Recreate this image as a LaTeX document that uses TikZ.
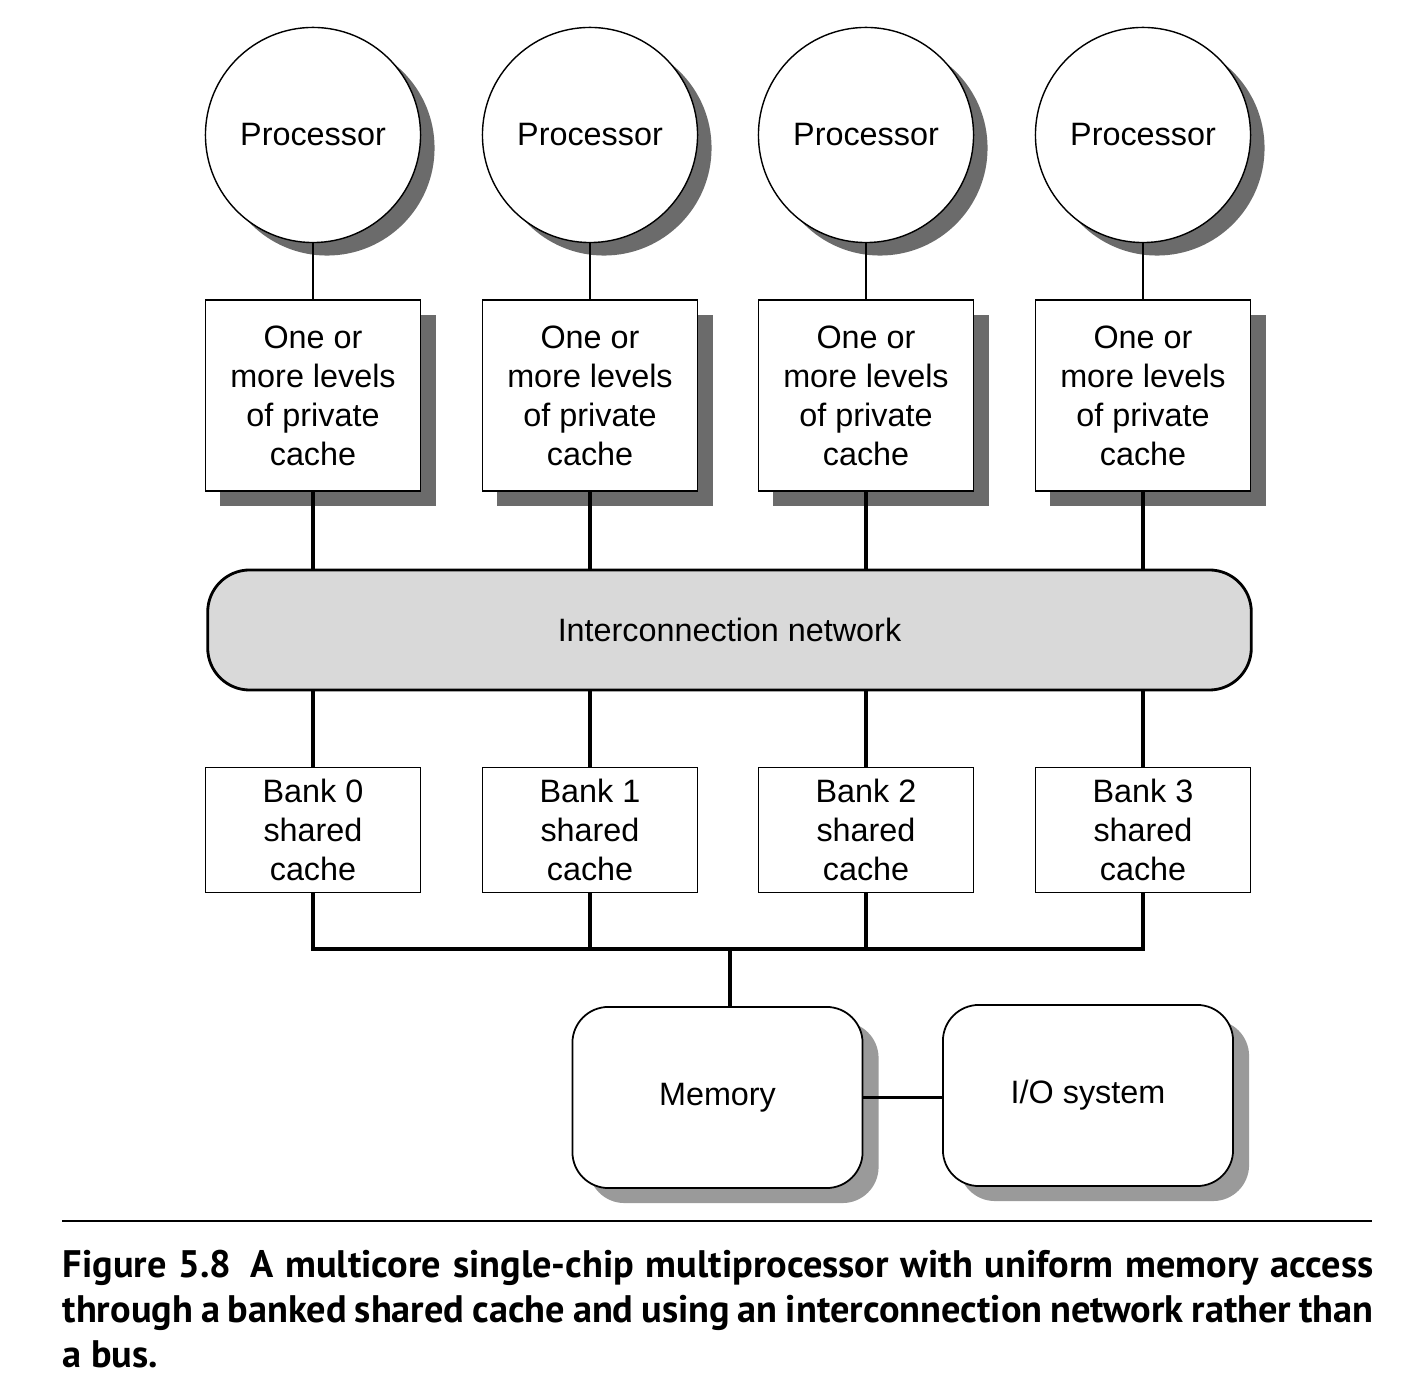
\documentclass[tikz,border=0pt]{standalone}
\usepackage{fontspec}
\setmainfont{Liberation Sans}
\newfontfamily\capfont{PT Sans}
\usepackage{tikz}
\usetikzlibrary{shadows}
\definecolor{shadowdark}{HTML}{6B6B6B}
\definecolor{shadowlight}{HTML}{9A9A9A}
\definecolor{netgray}{HTML}{D9D9D9}
\tikzset{
  proc/.style={draw, line width=0.4pt, circle, fill=white, minimum size=2.15cm, inner sep=0pt,
    font=\fontsize{9.2}{11.1}\selectfont,
    general shadow={fill=shadowdark, shadow xshift=0.14cm, shadow yshift=-0.13cm}},
  privcache/.style={draw, line width=0.45pt, fill=white, minimum width=2.15cm, minimum height=1.91cm,
    align=center, font=\fontsize{9.2}{11.1}\selectfont,
    general shadow={fill=shadowdark, shadow xshift=0.15cm, shadow yshift=-0.15cm}},
  bank/.style={draw, line width=0.45pt, fill=white, minimum width=2.15cm, minimum height=1.24cm,
    align=center, font=\fontsize{9.2}{11.1}\selectfont},
  netbox/.style={draw, line width=0.8pt, fill=netgray, rounded corners=0.42cm,
    minimum width=10.43cm, minimum height=1.2cm, font=\fontsize{9.2}{11.1}\selectfont},
  sysbox/.style={draw, line width=0.5pt, fill=white, rounded corners=0.36cm,
    minimum width=2.9cm, minimum height=1.81cm, font=\fontsize{9.2}{11.1}\selectfont,
    general shadow={fill=shadowlight, shadow xshift=0.16cm, shadow yshift=-0.15cm}},
  link/.style={line width=0.4pt},
  wire/.style={line width=1pt},
}

\begin{document}
\begin{tikzpicture}[x=0.01cm, y=-0.01cm]
\useasboundingbox (0,0) rectangle (1402,1398);

% processors
\node[proc] (p0) at (313,135) {Processor};
\node[proc] (p1) at (590,135) {Processor};
\node[proc] (p2) at (866,135) {Processor};
\node[proc] (p3) at (1143,135) {Processor};

% private caches
\node[privcache] (c0) at (313,395.5) {One or\\more levels\\of private\\cache};
\node[privcache] (c1) at (590,395.5) {One or\\more levels\\of private\\cache};
\node[privcache] (c2) at (866,395.5) {One or\\more levels\\of private\\cache};
\node[privcache] (c3) at (1143,395.5) {One or\\more levels\\of private\\cache};

\node[netbox] (net) at (729.5,630) {Interconnection network};

% shared cache banks
\node[bank] (b0) at (313,830) {Bank 0\\shared\\cache};
\node[bank] (b1) at (590,830) {Bank 1\\shared\\cache};
\node[bank] (b2) at (866,830) {Bank 2\\shared\\cache};
\node[bank] (b3) at (1143,830) {Bank 3\\shared\\cache};

\node[sysbox] (mem) at (717.5,1097.5) {\raisebox{-3pt}{Memory}};
\node[sysbox] (io) at (1088,1095.5) {I/O system};

\draw[link] (p0) -- (c0);
\draw[link] (p1) -- (c1);
\draw[link] (p2) -- (c2);
\draw[link] (p3) -- (c3);

\draw[wire] (c0) -- (c0 |- net.north);
\draw[wire] (c1) -- (c1 |- net.north);
\draw[wire] (c2) -- (c2 |- net.north);
\draw[wire] (c3) -- (c3 |- net.north);

\draw[wire] (b0) -- (b0 |- net.south);
\draw[wire] (b1) -- (b1 |- net.south);
\draw[wire] (b2) -- (b2 |- net.south);
\draw[wire] (b3) -- (b3 |- net.south);

% bus to memory
\coordinate (bus) at (730,949);
\draw[wire] (b0.south) |- (bus) -| (b3.south);
\draw[wire] (b1.south) -- (b1.south |- bus);
\draw[wire] (b2.south) -- (b2.south |- bus);
\draw[wire] (bus) -- (bus |- mem.north);
\draw[line width=0.7pt] (mem.east) -- (io.west |- mem.east);

% caption
\draw[line width=0.6pt] (62,1221) -- (1372,1221);
\node[anchor=north west, inner sep=0pt, text width=13.1cm, align=justify,
  font=\capfont\bfseries\fontsize{10.9}{12.8}\selectfont] (cap) at (62,1249)
  {Figure 5.8\enspace A multicore single-chip multiprocessor with uniform memory access\linebreak
   through a banked shared cache and using an interconnection network rather than\linebreak
   a bus.};
\end{tikzpicture}
\end{document}
